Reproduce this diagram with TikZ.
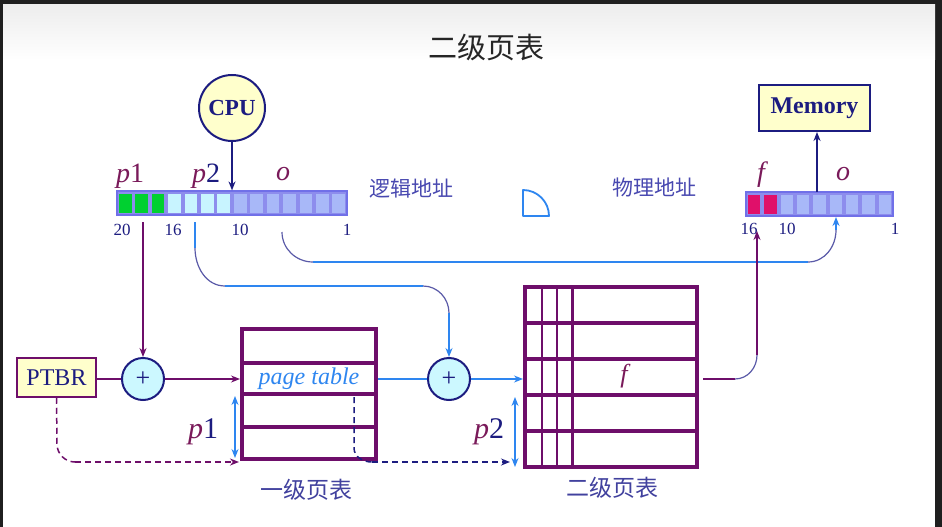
\documentclass[tikz,border=0pt]{standalone}
\usepackage{fontspec}
\setmainfont{Liberation Serif}
\newfontfamily\cjk{Noto Sans CJK SC}
\usetikzlibrary{arrows.meta}
\definecolor{mar}{HTML}{6E0E6A}
\definecolor{navyc}{HTML}{1C1C80}
\definecolor{bluel}{HTML}{2E86F0}
\definecolor{arcc}{HTML}{5A5AA8}
\definecolor{ylw}{HTML}{FFFFCC}
\definecolor{cyanl}{HTML}{CCF8FF}
\definecolor{grn}{HTML}{00D030}
\definecolor{cellc}{HTML}{C8F4FF}
\definecolor{cellb}{HTML}{A8B8F8}
\definecolor{barb}{HTML}{7070E8}
\definecolor{mag}{HTML}{E0106A}
\definecolor{txtb}{HTML}{4848B0}
\definecolor{pcol}{HTML}{7A1A5A}
\begin{document}
\begin{tikzpicture}[x=1pt,y=-1pt,
  tip/.style={-{Stealth[length=9pt,width=7pt]}},
  dtip/.style={{Stealth[length=9pt,width=7pt]}-{Stealth[length=9pt,width=7pt]}},
  mline/.style={draw=mar,line width=1.4pt},
  bline/.style={draw=bluel,line width=1.4pt},
  aline/.style={draw=arcc,line width=1.2pt},
  nline/.style={draw=navyc,line width=1.4pt},
  tline/.style={draw=mar,line width=4pt},
  thin/.style={draw=mar,line width=1.2pt},
  dash6/.style={dash pattern=on 6pt off 4pt},
  plusnode/.style={circle,draw=navyc,line width=2pt,fill=cyanl,minimum size=42pt,inner sep=0pt,text=navyc,font=\fontsize{26}{26}\selectfont},
  boxnode/.style={draw=navyc,line width=2pt,fill=ylw,inner sep=0pt,text=navyc},
  pvar/.style={text=pcol,font=\itshape\fontsize{28}{30}\selectfont,inner sep=0pt},
  num/.style={text=navyc,font=\fontsize{17}{18}\selectfont,inner sep=0pt},
  cjklab/.style={text=txtb,font=\cjk\fontsize{21}{24}\selectfont,inner sep=0pt}]
\useasboundingbox (0,0) rectangle (942,527);
\fill[black!88] (0,0) rectangle (942,527);
\fill[white] (3,5) rectangle (935,527);
\shade[top color=black!7,bottom color=white] (3,5) rectangle (935,60);

% title
\node[font=\cjk\fontsize{29}{31}\selectfont,text=black!85,inner sep=0pt] (title) at (486,48) {二级页表};

% CPU and memory
\node[boxnode,circle,minimum size=66pt,font=\bfseries\fontsize{23}{25}\selectfont] (cpu) at (232,108) {CPU};
\node[boxnode,minimum width=111pt,minimum height=46pt,font=\bfseries\fontsize{24}{26}\selectfont] (mem) at (814.5,108) {Memory};

% logical address bar
\node[draw=barb,line width=1.2pt,fill=barb!80,minimum width=230pt,minimum height=24pt,inner sep=0pt] (lbar) at (232,203) {};
\foreach \i/\c in {0/grn,1/grn,2/grn,3/cellc,4/cellc,5/cellc,6/cellc,7/cellb,8/cellb,9/cellb,10/cellb,11/cellb,12/cellb,13/cellb}
  \fill[\c] ({117+\i*16.4286+1.9},193.5) rectangle ({117+(\i+1)*16.4286-1.9},212.5);
% physical address bar
\node[draw=barb,line width=1.2pt,fill=barb!80,minimum width=147pt,minimum height=24pt,inner sep=0pt] (pbar) at (819.5,204) {};
\foreach \i/\c in {0/mag,1/mag,2/cellb,3/cellb,4/cellb,5/cellb,6/cellb,7/cellb,8/cellb}
  \fill[\c] ({746+\i*16.333+1.9},194.5) rectangle ({746+(\i+1)*16.333-1.9},213.5);

% labels above bars
\node[pvar] (lp1) at (130,176) {p\upshape 1};
\node[pvar] (lp2) at (206,176) {p\upshape\color{navyc}2};
\node[pvar] (lo) at (283,174) {o};
\node[pvar] (pf) at (761,175) {f};
\node[pvar] (po) at (843,174) {o};
% numbers
\node[num] (n20) at (122,230) {20};
\node[num] (n16) at (173,230) {16};
\node[num] (n10) at (240,230) {10};
\node[num] (n1) at (347,230) {1};
\node[num] (m16) at (749,229) {16};
\node[num] (m10) at (787,229) {10};
\node[num] (m1) at (895,229) {1};

\node[cjklab] (la) at (411,189) {逻辑地址};
\node[cjklab] (pa) at (654,188) {物理地址};

% quarter-circle mark
\draw[draw=bluel,line width=1.8pt,line join=round] (523,190) -- (523,216) -- (549,216) arc[start angle=0,end angle=-90,radius=26] -- cycle;

% CPU and memory arrows
\draw[nline,tip] (cpu.south) -- (cpu.south |- lbar.north);
\coordinate (memsrc) at (817,192);
\draw[nline,tip] (memsrc) -- (memsrc |- mem.south);

% PTBR and adders
\node[draw=mar,line width=1.5pt,fill=ylw,minimum width=79pt,minimum height=39pt,inner sep=0pt,text=navyc,font=\fontsize{24}{26}\selectfont] (ptbr) at (56.5,377.5) {PTBR};
\node[plusnode] (pl1) at (143,379) {+};
\node[plusnode] (pl2) at (449,379) {+};

% first-level page table
\node[draw=mar,line width=4pt,minimum width=134pt,minimum height=130pt,inner sep=0pt] (pt) at (309,394) {};
\draw[tline] (242,363) -- (376,363);
\draw[tline] (242,394) -- (376,394);
\draw[tline] (242,427) -- (376,427);
\node[text=bluel,font=\itshape\fontsize{24}{26}\selectfont,inner sep=0pt] (ptl) at (309,379) {page table};

% second-level page table
\node[draw=mar,line width=4pt,minimum width=172pt,minimum height=180pt,inner sep=0pt] (t2) at (611,377) {};
\foreach \y in {323,359,395,431} \draw[tline] (525,\y) -- (697,\y);
\draw[thin] (542,287) -- (542,467);
\draw[thin] (557,287) -- (557,467);
\draw[draw=mar,line width=3pt] (572,287) -- (572,467);
\node[text=pcol,font=\itshape\fontsize{26}{28}\selectfont,inner sep=0pt] (t2f) at (624,376) {f};

\node[cjklab,text=txtb!90!black,font=\cjk\fontsize{23}{25}\selectfont] (t1name) at (306,490) {一级页表};
\node[cjklab,text=txtb!90!black,font=\cjk\fontsize{23}{25}\selectfont] (t2name) at (612,488) {二级页表};

% p1 / p2 labels and ranges
\node[pvar,font=\itshape\fontsize{30}{32}\selectfont] (p1l) at (203,432) {p\upshape\color{navyc}1};
\node[pvar,font=\itshape\fontsize{30}{32}\selectfont] (p2l) at (489,432) {p\upshape\color{navyc}2};
\coordinate (r1a) at (235,396); \coordinate (r1b) at (235,458);
\draw[draw=bluel,line width=1.1pt,dtip] (r1a) -- (r1b);
\coordinate (r2a) at (515,397); \coordinate (r2b) at (515,467);
\draw[draw=bluel,line width=1.1pt,dtip] (r2a) -- (r2b);

% main flow
\coordinate (p1src) at (143,222);
\draw[mline,tip] (p1src) -- (pl1.north);
\draw[mline] (ptbr.east |- pl1.west) -- (pl1.west);
\draw[mline,tip] (pl1.east) -- (pt.west |- pl1.east);
\draw[bline] (pt.east |- pl2.west) -- (pl2.west);
\draw[bline,tip] (pl2.east) -- (t2.west |- pl2.east);

% dashed paths
\coordinate (d1a) at (ptbr.south);
\coordinate (d1b) at (57,444);
\coordinate (d1c) at (75,462);
\coordinate (d1d) at (239,462);
\draw[draw=mar,line width=1.5pt,dash6] (d1a) -- (d1b) to[out=-90,in=180] (d1c);
\draw[draw=mar,line width=1.5pt,dash6,tip] (d1c) -- (d1d);
\coordinate (d2a) at (354,397);
\coordinate (d2b) at (354,448);
\coordinate (d2c) at (372,462);
\coordinate (d2d) at (510,462);
\draw[draw=navyc,line width=1.5pt,dash6] (d2a) -- (d2b) to[out=-90,in=180] (d2c);
\draw[draw=navyc,line width=1.5pt,dash6,tip] (d2c) -- (d2d);

% p2 route
\coordinate (q1) at (195,222);
\coordinate (q2) at (195,248);
\coordinate (q3) at (225,286);
\coordinate (q4) at (423,286);
\coordinate (q5) at (449,313);
\draw[bline] (q1) -- (q2);
\draw[aline] (q2) to[out=-90,in=180] (q3);
\draw[bline] (q3) -- (q4);
\draw[aline] (q4) to[out=0,in=90] (q5);
\draw[bline,tip] (q5) -- (pl2.north);

% offset route
\coordinate (o1) at (282,232);
\coordinate (o2) at (313,262);
\coordinate (o3) at (808,262);
\coordinate (o4) at (836,230);
\coordinate (o5) at (836,217);
\draw[aline] (o1) to[out=-90,in=180] (o2);
\draw[bline] (o2) -- (o3);
\draw[aline] (o3) to[out=0,in=-90] (o4);
\draw[bline,tip] (o4) -- (o5);

% frame route
\coordinate (f1) at (703,379);
\coordinate (f2) at (735,379);
\coordinate (f3) at (757,355);
\coordinate (f4) at (757,231);
\draw[mline] (f1) -- (f2);
\draw[aline] (f2) to[out=0,in=-90] (f3);
\draw[mline,tip] (f3) -- (f4);
\end{tikzpicture}
\end{document}
